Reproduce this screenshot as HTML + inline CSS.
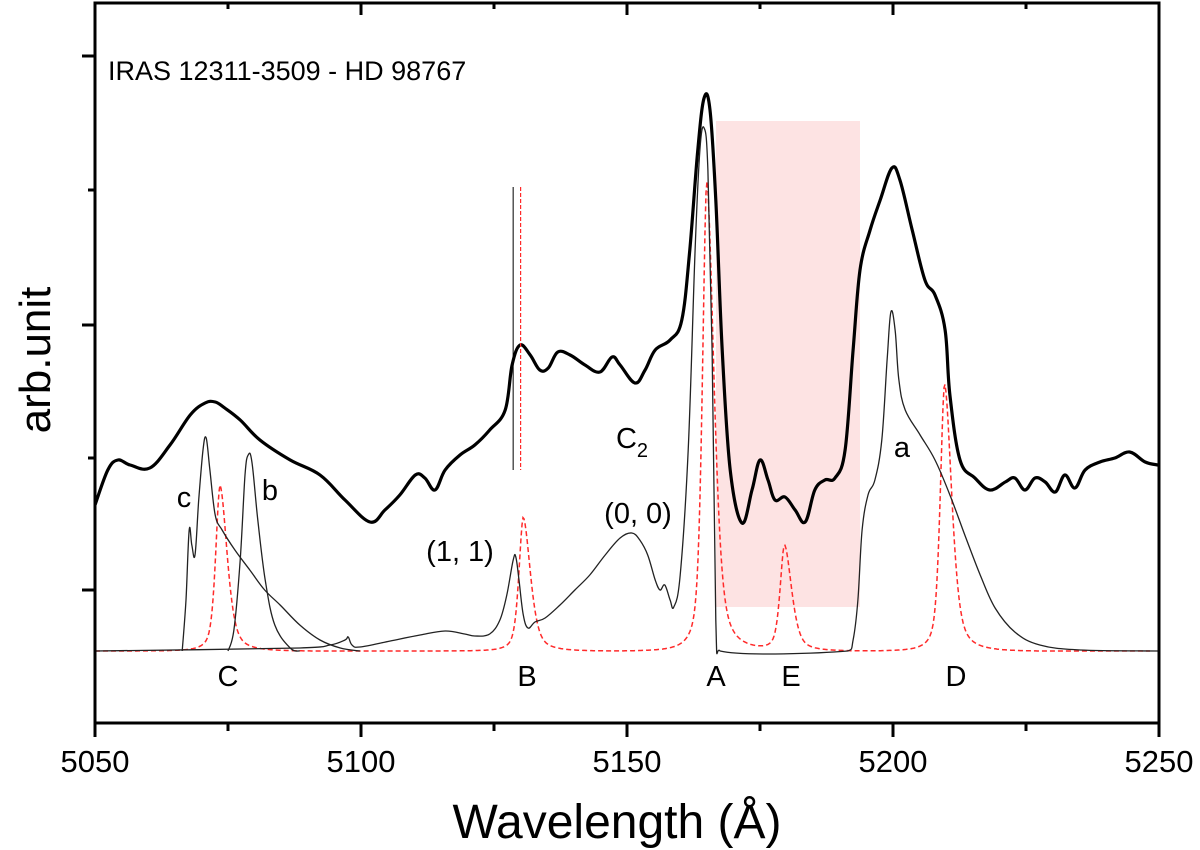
<!DOCTYPE html>
<html><head><meta charset="utf-8">
<style>
html,body{margin:0;padding:0;background:#fff;}
svg{display:block;font-family:"Liberation Sans",Arial,sans-serif;}
</style></head>
<body>
<svg id="chart" width="1200" height="850" viewBox="0 0 1200 850" xmlns="http://www.w3.org/2000/svg">
<rect x="716" y="121" width="144" height="486" fill="#fde3e3"/>
<g id="marks"></g>
<rect x="95" y="3" width="1064" height="720" fill="none" stroke="#000" stroke-width="3"/>
<g id="axes"></g>
<text x="108" y="80" font-size="27">IRAS 12311-3509 - HD 98767</text>
<text transform="translate(50,360) rotate(-90)" text-anchor="middle" font-size="44">arb.unit</text>
<text x="617" y="838" text-anchor="middle" font-size="48">Wavelength (Å)</text>
<g font-size="29" text-anchor="middle">
<text x="184" y="507">c</text>
<text x="270" y="500">b</text>
<text x="228" y="686">C</text>
<text x="460" y="561">(1, 1)</text>
<text x="527" y="686">B</text>
<text x="632" y="448">C<tspan font-size="20" dy="9">2</tspan></text>
<text x="638" y="523">(0, 0)</text>
<text x="716" y="686">A</text>
<text x="791" y="686">E</text>
<text x="902" y="457">a</text>
<text x="956" y="686">D</text>
</g>
</svg>
<script>
const xTicks=[5050,5100,5150,5200,5250];
const xMinor=[5075,5125,5175,5225];
const yMajor=[6.67,3.98,1.33];
const yMinor=[5.33,2.65];
const obsWave=[5050,5052.4,5054.3,5056.6,5060.3,5064.1,5067.9,5070.7,5072.6,5074.4,5077.3,5081,5086.7,5092.3,5097,5101.7,5104.5,5107.3,5110.2,5112,5113.9,5115.8,5118.6,5121.4,5124.2,5127.1,5128.4,5129.9,5131.8,5133.6,5135.2,5137,5139.3,5142.1,5144.9,5147.2,5148.7,5151.5,5153.4,5155.3,5158.1,5160.3,5161.8,5163.3,5164.5,5165.6,5166.7,5167.9,5169.4,5171.6,5173.5,5175,5176.5,5177.8,5179.7,5181.6,5183.5,5185.3,5187.2,5189.1,5191,5192.5,5193.8,5195.7,5197.6,5199.8,5201.3,5203.6,5206,5207.9,5209.8,5210.7,5212.6,5215.4,5218.2,5221.1,5222.9,5224.8,5226.7,5228.6,5230.5,5232.3,5234.2,5236.1,5238.9,5241.7,5244.5,5247.4,5249.8];
const obsFlux=[2.18,2.53,2.63,2.58,2.55,2.78,3.08,3.2,3.21,3.15,3.03,2.83,2.63,2.48,2.23,2.01,2.13,2.28,2.48,2.45,2.33,2.53,2.68,2.78,2.93,3.13,3.58,3.78,3.68,3.53,3.55,3.71,3.68,3.58,3.51,3.66,3.58,3.4,3.53,3.73,3.83,4.03,4.73,5.73,6.25,6.13,5.23,3.73,2.53,2,2.33,2.63,2.43,2.23,2.26,2.13,2.01,2.33,2.43,2.45,2.73,3.73,4.53,4.93,5.23,5.55,5.43,4.93,4.43,4.28,3.93,3.28,2.63,2.45,2.33,2.41,2.45,2.33,2.45,2.41,2.31,2.48,2.35,2.53,2.61,2.65,2.71,2.61,2.58];
const cWave=[5066.4,5067.1,5067.7,5068.2,5068.8,5069.5,5070.3,5070.9,5071.6,5072.6,5073.9,5076.3,5079.1,5081.9,5084.8,5088.5,5092.3,5096.1,5099.8];
const cFlux=[0.72,1.23,1.93,1.78,1.68,2.23,2.73,2.85,2.53,2.08,1.93,1.73,1.53,1.33,1.18,0.98,0.83,0.75,0.72];
const bWave=[5075,5076.1,5077.3,5078.2,5078.8,5079.5,5080.6,5082,5083.8,5086.7,5088.5];
const bFlux=[0.72,0.93,1.63,2.48,2.68,2.61,2.03,1.43,0.98,0.75,0.72];
const mWave=[5050,5088.5,5094.2,5097,5097.6,5098.3,5099.8,5105.5,5111.1,5115.8,5119.5,5121.4,5124.2,5126.1,5127.4,5128.6,5129.1,5129.7,5130.5,5131.4,5132.7,5134.6,5137.4,5140.2,5143,5145.9,5148.7,5150.9,5152.4,5153.9,5155.3,5156.2,5157.1,5158.1,5158.8,5160,5161.5,5162.8,5163.7,5164.5,5165.2,5166,5166.7,5167.5,5191.5,5192.5,5193.4,5194.2,5195.3,5196.6,5197.9,5198.9,5199.6,5200.4,5201.1,5202.3,5205.1,5207.9,5210.7,5213.5,5216.4,5219.2,5222.9,5227.6,5235.2,5249.8];
const mFlux=[0.72,0.75,0.78,0.83,0.86,0.78,0.76,0.82,0.88,0.92,0.89,0.87,0.89,1.03,1.28,1.63,1.66,1.43,1.08,0.95,1.01,1.05,1.18,1.33,1.48,1.68,1.85,1.9,1.83,1.68,1.43,1.33,1.38,1.23,1.16,1.48,2.73,4.73,5.73,5.95,5.53,3.73,1.03,0.72,0.72,0.83,1.23,1.93,2.28,2.43,2.83,3.63,4.11,3.93,3.43,3.13,2.88,2.63,2.28,1.88,1.48,1.15,0.91,0.78,0.73,0.72];
const redNames=['C','B','A','E','D'];
const redCenters=[5073.5,5130.5,5165.0,5179.6,5209.7];
const redHeights=[2.38,2.06,5.43,1.78,3.40];
const redBase=0.72;
const vLineWave=[5128.6,5130.0];
const vLineTop=[5.36];
const vLineBottom=[2.53];

const x=w=>95+(w-5050)*5.32;
const y=v=>723-v*100;
const NS='http://www.w3.org/2000/svg';
const marks=document.getElementById('marks');
const axes=document.getElementById('axes');
function mk(tag,attrs,parent){const e=document.createElementNS(NS,tag);for(const k in attrs)e.setAttribute(k,attrs[k]);parent.appendChild(e);return e;}
function line(ws,fs){
  const p=ws.map((w,i)=>[x(w),y(fs[i])]);
  let d='M'+p[0][0].toFixed(1)+','+p[0][1].toFixed(1);
  for(let i=0;i<p.length-1;i++){
    const p0=p[i-1]||p[i],p1=p[i],p2=p[i+1],p3=p[i+2]||p2;
    const t=0.18;
    const c1=[p1[0]+(p2[0]-p0[0])*t,p1[1]+(p2[1]-p0[1])*t];
    const c2=[p2[0]-(p3[0]-p1[0])*t,p2[1]-(p3[1]-p1[1])*t];
    c1[0]=Math.min(Math.max(c1[0],p1[0]),p2[0]);c2[0]=Math.min(Math.max(c2[0],p1[0]),p2[0]);
    d+='C'+c1[0].toFixed(1)+','+c1[1].toFixed(1)+' '+c2[0].toFixed(1)+','+c2[1].toFixed(1)+' '+p2[0].toFixed(1)+','+p2[1].toFixed(1);
  }
  return d;
}

function prof(d,hw){const t=d/hw;return 0.45*Math.exp(-Math.LN2*t*t)+0.55/(1+t*t);}
let rp='';
for(let px=95;px<=1150;px+=1){
  const w=5050+(px-95)/5.32;
  let v=redBase;
  for(let i=0;i<redCenters.length;i++){const d=w-redCenters[i];const hw=d<0?1.0:1.7;const p=prof(d,hw);if(Math.abs(d)<18)v+=(redHeights[i]-redBase)*p*Math.max(0,1-Math.abs(d)/18);}
  rp+=(px===95?'M':'L')+px+','+y(v).toFixed(1);
}
const red=mk('path',{d:rp,fill:'none',stroke:'#ff2a2a','stroke-width':1.5,'stroke-dasharray':'5,3'},marks);



const pc=mk('path',{d:line(cWave,cFlux),fill:'none',stroke:'#222','stroke-width':1.3},marks);


const pb=mk('path',{d:line(bWave,bFlux),fill:'none',stroke:'#222','stroke-width':1.3},marks);


const pm=mk('path',{d:line(mWave,mFlux),fill:'none',stroke:'#222','stroke-width':1.3},marks);


const po=mk('path',{d:line(obsWave,obsFlux),fill:'none',stroke:'#000','stroke-width':3.2,'stroke-linejoin':'round'},marks);



const v1=mk('line',{x1:x(vLineWave[0]),x2:x(vLineWave[0]),y1:y(vLineTop[0]),y2:y(vLineBottom[0]),stroke:'#000','stroke-width':1},marks);


const v2=mk('line',{x1:x(vLineWave[1]),x2:x(vLineWave[1]),y1:y(vLineTop[0]),y2:y(vLineBottom[0]),stroke:'#ff2a2a','stroke-width':1.2,'stroke-dasharray':'4,2'},marks);



xTicks.forEach(t=>{
  const tk=mk('line',{x1:x(t),x2:x(t),y1:723,y2:737,stroke:'#000','stroke-width':3},axes);
  
  
  const tt=mk('line',{x1:x(t),x2:x(t),y1:3,y2:15,stroke:'#000','stroke-width':3},axes);
  
  
  const lb=mk('text',{x:x(t),y:772,'text-anchor':'middle','font-size':31},axes);
  lb.textContent=t;
  
  
});
xMinor.forEach(t=>{
  const tk=mk('line',{x1:x(t),x2:x(t),y1:723,y2:731,stroke:'#000','stroke-width':3},axes);
  
  
  const tt=mk('line',{x1:x(t),x2:x(t),y1:3,y2:9,stroke:'#000','stroke-width':3},axes);
  
  
});
yMajor.forEach(v=>{
  const tk=mk('line',{x1:82,x2:95,y1:y(v),y2:y(v),stroke:'#000','stroke-width':3},axes);
  
  
});
yMinor.forEach(v=>{
  const tk=mk('line',{x1:88,x2:95,y1:y(v),y2:y(v),stroke:'#000','stroke-width':3},axes);
  
  
});
</script>
</body></html>
